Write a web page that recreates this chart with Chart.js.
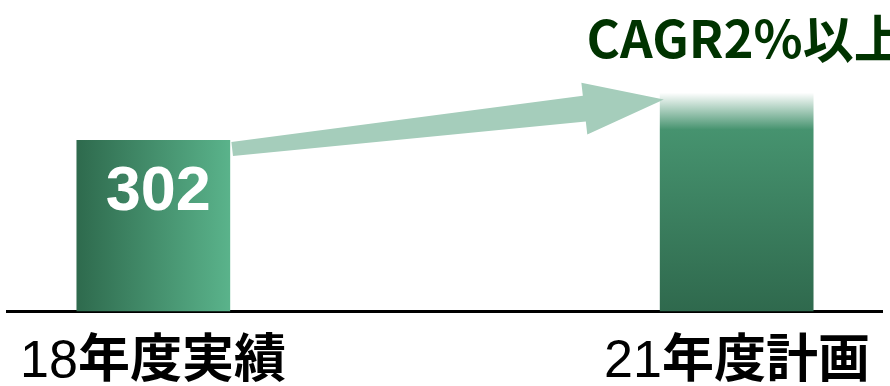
<!DOCTYPE html>
<html lang="ja">
<head>
<meta charset="utf-8">
<script src="https://cdn.jsdelivr.net/npm/chart.js@4/dist/chart.umd.min.js"></script>
<style>
  html, body { margin: 0; padding: 0; background: #fff; }
  #wrap { width: 890px; height: 386px; }
  /* 数字は細め、漢字は太めのゴシック */
  @font-face { font-family: "LabelMix"; src: local("Liberation Sans"), local("LiberationSans"); unicode-range: U+0000-00FF; }
  @font-face { font-family: "LabelMix"; src: local("Noto Sans CJK JP Bold"), local("NotoSansCJKjp-Bold"); unicode-range: U+3000-9FFF; }
</style>
</head>
<body>
<div id="wrap"><canvas id="chart"></canvas></div>
<script>
// データ
const categories = ["18年度実績", "", "21年度計画"];
const values = [302, null, 385];     // 21年度は「以上」の部分までフェード
const planSolid = 320;               // CAGR2% 相当 (ここから上はフェード)
const valueLabels = ["302", "", ""];
const headline = "CAGR2%以上";
const arrowFrom = 286;               // 矢印の始点 (値)
const arrowTo = 373;                 // 矢印の先端 (値)

// 棒の色をグラデーションにする
const gradientBars = {
  id: "gradientBars",
  beforeDatasetsDraw(chart) {
    const ctx = chart.ctx;
    const y = chart.scales.y;
    chart.getDatasetMeta(0).data.forEach((bar, i) => {
      if (values[i] == null) return;
      let g;
      if (i === 0) {
        g = ctx.createLinearGradient(bar.x - bar.width / 2, 0, bar.x + bar.width / 2, 0);
        g.addColorStop(0, "#2e6a4d");
        g.addColorStop(1, "#5ab38b");
      } else {
        const top = bar.y, bottom = bar.base;
        const solid = y.getPixelForValue(planSolid);
        g = ctx.createLinearGradient(0, top, 0, bottom);
        g.addColorStop(0, "rgba(255,255,255,1)");
        g.addColorStop((solid - top) / (bottom - top), "#46936f");
        g.addColorStop(1, "#2f694d");
      }
      bar.options.backgroundColor = g;
    });
  }
};

// 矢印・数値・見出し
const decorations = {
  id: "decorations",
  afterDatasetsDraw(chart) {
    const ctx = chart.ctx;
    const meta = chart.getDatasetMeta(0);
    const y = chart.scales.y;
    const b1 = meta.data[0], b2 = meta.data[2];

    // 矢印
    const sx = b1.x + b1.width / 2 + 2, sy = y.getPixelForValue(arrowFrom);
    const tx = b2.x - b2.width / 2 + 4, ty = y.getPixelForValue(arrowTo);
    const len = Math.hypot(tx - sx, ty - sy);
    const ux = (tx - sx) / len, uy = (ty - sy) / len;
    const nx = -uy, ny = ux;
    const hx = tx - ux * 80, hy = ty - uy * 80;
    ctx.save();
    ctx.fillStyle = "#a5cdbb";
    ctx.beginPath();
    ctx.moveTo(sx + nx * 7, sy + ny * 7);
    ctx.lineTo(hx + nx * 13, hy + ny * 13);
    ctx.lineTo(hx + nx * 26, hy + ny * 26);
    ctx.lineTo(tx, ty);
    ctx.lineTo(hx - nx * 26, hy - ny * 26);
    ctx.lineTo(hx - nx * 13, hy - ny * 13);
    ctx.lineTo(sx - nx * 7, sy - ny * 7);
    ctx.closePath();
    ctx.fill();

    // 棒の中の数値
    ctx.fillStyle = "#ffffff";
    ctx.font = "bold 63px 'Liberation Sans', Arial, sans-serif";
    ctx.textAlign = "center";
    ctx.textBaseline = "middle";
    meta.data.forEach((bar, i) => {
      if (!valueLabels[i]) return;
      ctx.fillText(valueLabels[i], bar.x + 5, bar.y + 53);
    });

    // 見出し
    ctx.fillStyle = "#003300";
    ctx.font = "bold 51px 'Noto Sans CJK JP', sans-serif";
    ctx.fillText(headline, b2.x + 9, 39);
    ctx.restore();
  }
};

function draw() {
  new Chart(document.getElementById("chart"), {
    type: "bar",
    data: {
      labels: categories,
      datasets: [{
        data: values,
        backgroundColor: () => "#46936f",   // 要素ごとに別の options にする
        borderWidth: 0,
        barPercentage: 0.527,
        categoryPercentage: 1
      }]
    },
    options: {
      responsive: true,
      maintainAspectRatio: false,
      animation: false,
      events: [],
      layout: { padding: { left: 6, right: 3.5, top: 0, bottom: -28 } },
      plugins: {
        legend: { display: false },
        tooltip: { enabled: false },
        title: { display: false }
      },
      scales: {
        x: {
          grid: { display: false, drawTicks: false },
          border: { display: true, color: "#000", width: 3 },
          ticks: {
            color: "#000",
            padding: 20,
            font: { family: "LabelMix, 'Liberation Sans', 'Noto Sans CJK JP', sans-serif", size: 52 }
          }
        },
        y: {
          display: false,
          min: 0,
          max: 548
        }
      }
    },
    plugins: [gradientBars, decorations]
  });
}

Promise.all([
  document.fonts.load("52px LabelMix", "18年度実績"),
  document.fonts.load("bold 51px 'Noto Sans CJK JP'", "CAGR2%以上")
]).then(draw, draw);
</script>
</body>
</html>
